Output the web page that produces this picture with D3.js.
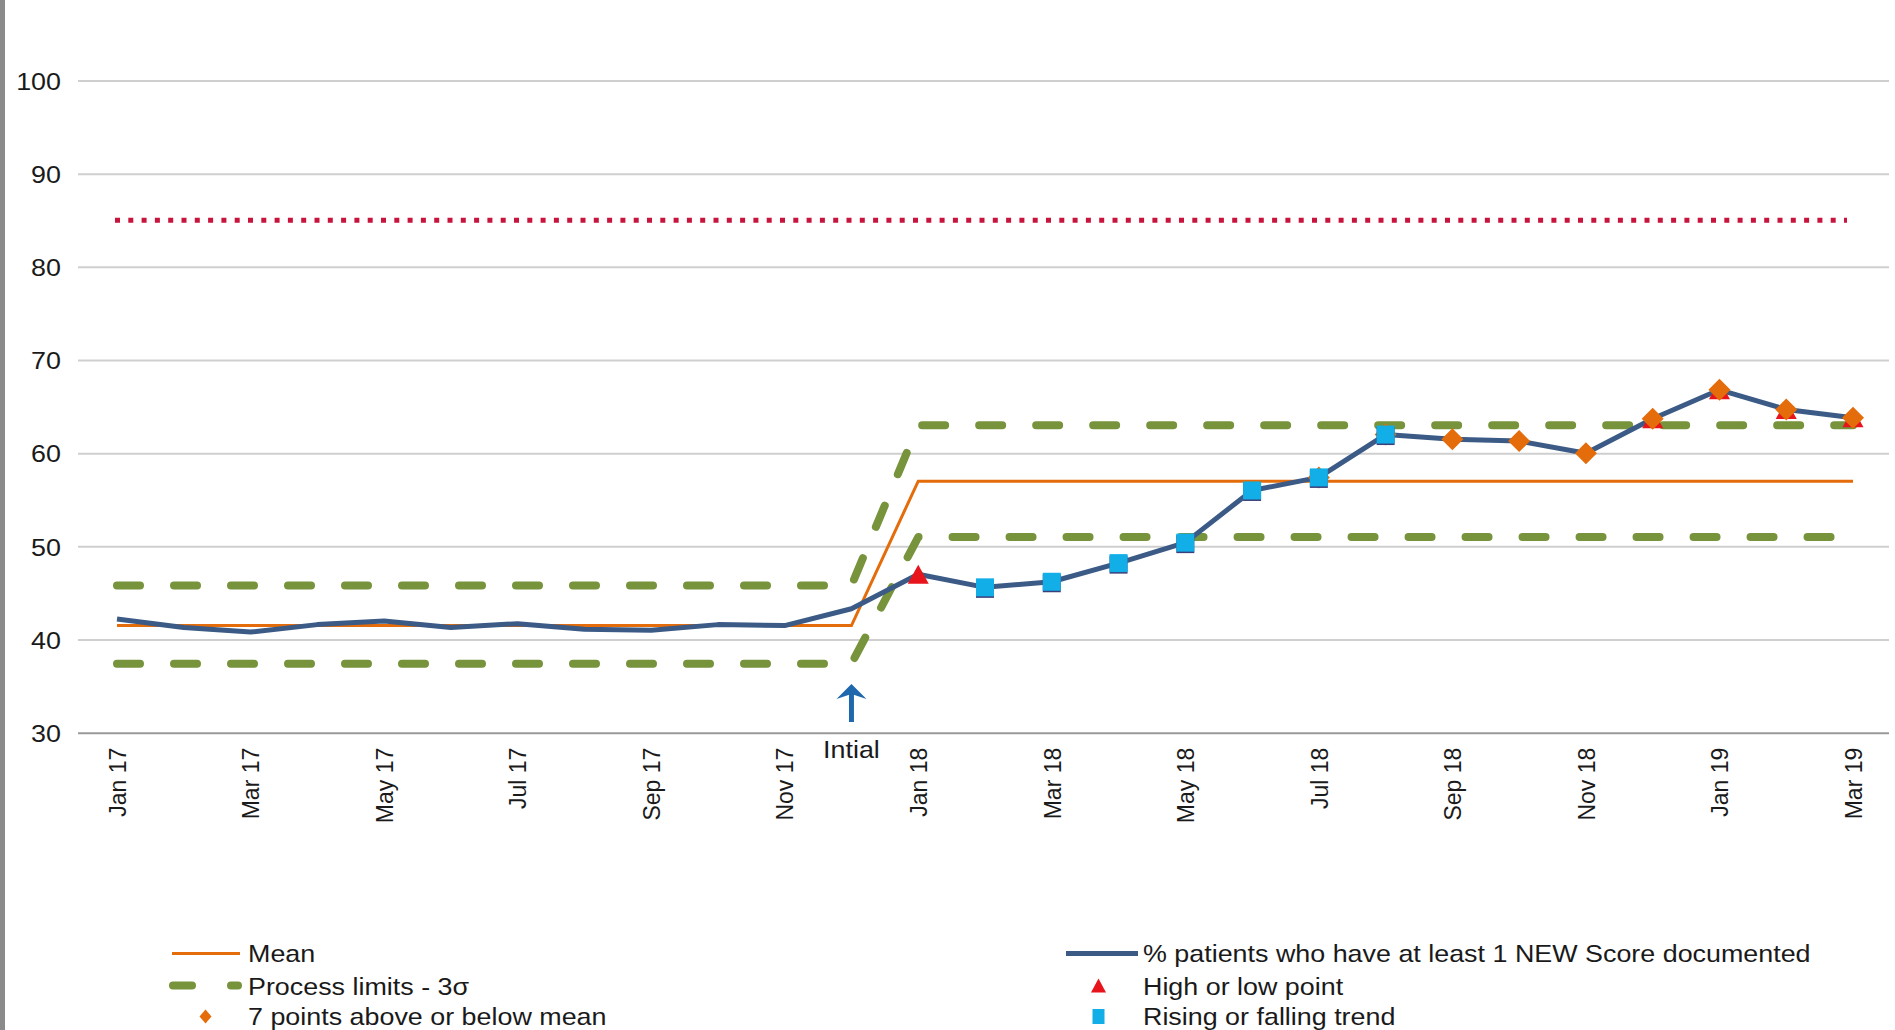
<!DOCTYPE html>
<html>
<head>
<meta charset="utf-8">
<script src="https://cdn.jsdelivr.net/npm/d3@7"></script>
<style>
  html, body { margin: 0; padding: 0; background: #fff; }
  svg { display: block; }
  text { font-family: "Liberation Sans", Arial, sans-serif; fill: #1a1a1a; }
</style>
</head>
<body>
<script>
// ---------- data ----------
const months = ["Jan 17","Feb 17","Mar 17","Apr 17","May 17","Jun 17","Jul 17","Aug 17","Sep 17","Oct 17","Nov 17","Dec 17",
                "Jan 18","Feb 18","Mar 18","Apr 18","May 18","Jun 18","Jul 18","Aug 18","Sep 18","Oct 18","Nov 18","Dec 18",
                "Jan 19","Feb 19","Mar 19"];
const values = [42.2,41.3,40.8,41.6,42.0,41.3,41.7,41.1,41.0,41.6,41.5,43.3,
                47.0,45.6,46.2,48.2,50.4,56.0,57.4,62.0,61.5,61.3,60.0,63.7,
                66.8,64.7,63.8];
const mean = [41.5,41.5,41.5,41.5,41.5,41.5,41.5,41.5,41.5,41.5,41.5,41.5,
              57.0,57.0,57.0,57.0,57.0,57.0,57.0,57.0,57.0,57.0,57.0,57.0,57.0,57.0,57.0];
const upperLimit = [45.8,45.8,45.8,45.8,45.8,45.8,45.8,45.8,45.8,45.8,45.8,45.8,
                    63.0,63.0,63.0,63.0,63.0,63.0,63.0,63.0,63.0,63.0,63.0,63.0,63.0,63.0,63.0];
const lowerLimit = [37.4,37.4,37.4,37.4,37.4,37.4,37.4,37.4,37.4,37.4,37.4,37.4,
                    51.0,51.0,51.0,51.0,51.0,51.0,51.0,51.0,51.0,51.0,51.0,51.0,51.0,51.0,51.0];
const target = 85;
const highLowPoints = ["Jan 18","Dec 18","Jan 19","Feb 19","Mar 19"];
const trendPoints = ["Feb 18","Mar 18","Apr 18","May 18","Jun 18","Jul 18","Aug 18"];
const runPoints = ["Jul 18","Aug 18","Sep 18","Oct 18","Nov 18","Dec 18","Jan 19","Feb 19","Mar 19"];
const xTickLabels = ["Jan 17","Mar 17","May 17","Jul 17","Sep 17","Nov 17","Jan 18","Mar 18","May 18","Jul 18","Sep 18","Nov 18","Jan 19","Mar 19"];
const yTicks = [30,40,50,60,70,80,90,100];
const annotationMonth = "Dec 17";
const annotationText = "Intial";
const legendLeft = ["Mean","Process limits - 3σ","7 points above or below mean"];
const legendRight = ["% patients who have at least 1 NEW Score documented","High or low point","Rising or falling trend"];

// ---------- setup ----------
const W = 1895, H = 1030;
const svg = d3.select("body").append("svg").attr("width", W).attr("height", H);
svg.append("rect").attr("width", W).attr("height", H).attr("fill", "#fff");
svg.append("rect").attr("x", 0).attr("y", 0).attr("width", 5).attr("height", H).attr("fill", "#8a8a8a");

const x = d3.scalePoint().domain(months).range([117, 1853]);
const y = d3.scaleLinear().domain([30, 100]).range([732.7, 80.5]);
const gridLeft = 78, gridRight = 1889;
const HS = 1.12; // horizontal text stretch

// gridlines + y labels
const yAxis = d3.axisLeft(y).tickValues(yTicks).tickSize(-(gridRight - gridLeft)).tickPadding(0);
const gy = svg.append("g").attr("transform", `translate(${gridLeft},0)`).call(yAxis);
gy.select(".domain").remove();
gy.selectAll(".tick line").attr("stroke", d => d === 30 ? "#9a9a9a" : "#cfcfcf").attr("stroke-width", 2);
gy.selectAll(".tick text")
  .attr("x", -17 / HS).attr("dy", "0.36em")
  .attr("transform", `scale(${HS},1)`)
  .style("font-size", "24px").style("font-family", "'Liberation Sans', Arial, sans-serif").attr("fill", "#1a1a1a");

// x labels
const xAxis = d3.axisBottom(x).tickValues(xTickLabels).tickSize(0);
const gx = svg.append("g").attr("transform", `translate(0,${y(30)})`).call(xAxis);
gx.select(".domain").remove();
gx.selectAll(".tick text")
  .attr("transform", "rotate(-90)")
  .attr("text-anchor", "end")
  .attr("x", -15).attr("y", 0).attr("dy", "0.36em")
  .style("font-size", "23px").style("font-family", "'Liberation Sans', Arial, sans-serif").attr("fill", "#1a1a1a");

// target dotted line
svg.append("line")
  .attr("x1", x(months[0]) - 2).attr("x2", x(months[months.length - 1]) - 6)
  .attr("y1", y(target)).attr("y2", y(target))
  .attr("stroke", "#c8143c").attr("stroke-width", 5)
  .attr("stroke-dasharray", "5 8.3");

const line = d3.line().x((d, i) => x(months[i])).y(d => y(d));

// process limits
[upperLimit, lowerLimit].forEach(arr => {
  svg.append("path").datum(arr).attr("d", line)
    .attr("fill", "none").attr("stroke", "#77933c").attr("stroke-width", 8)
    .attr("stroke-linecap", "round").attr("stroke-linejoin", "round")
    .attr("stroke-dasharray", "23 34");
});

// mean
svg.append("path").datum(mean).attr("d", line)
  .attr("fill", "none").attr("stroke", "#e46c0a").attr("stroke-width", 3);

// main series
svg.append("path").datum(values).attr("d", line)
  .attr("fill", "none").attr("stroke", "#3b5b86").attr("stroke-width", 5)
  .attr("stroke-linejoin", "round");

const valOf = m => values[months.indexOf(m)];

// triangles (high/low)
const tri = (cx, cy, w, h) => `M${cx},${cy - h / 2}L${cx + w / 2},${cy + h / 2}L${cx - w / 2},${cy + h / 2}Z`;
svg.append("g").selectAll("path").data(highLowPoints).join("path")
  .attr("d", m => tri(x(m), y(valOf(m)), 21, 19))
  .attr("fill", "#e8141c");

// diamonds (run)
const dia = (cx, cy, w, h) => `M${cx},${cy - h / 2}L${cx + w / 2},${cy}L${cx},${cy + h / 2}L${cx - w / 2},${cy}Z`;
svg.append("g").selectAll("path").data(runPoints).join("path")
  .attr("d", m => dia(x(m), y(valOf(m)), 22, 22))
  .attr("fill", "#e46c0a");

// squares (trend)
const sq = svg.append("g");
sq.selectAll("rect.sh").data(trendPoints).join("rect").attr("class", "sh")
  .attr("x", m => x(m) - 9).attr("y", m => y(valOf(m)) - 7.5)
  .attr("width", 18).attr("height", 18).attr("fill", "#3b3f7a");
sq.selectAll("rect.sq").data(trendPoints).join("rect").attr("class", "sq")
  .attr("x", m => x(m) - 9).attr("y", m => y(valOf(m)) - 9)
  .attr("width", 18).attr("height", 18).attr("fill", "#12aee8");

// annotation arrow + text
const ax = x(annotationMonth);
svg.append("line").attr("x1", ax).attr("x2", ax).attr("y1", 722).attr("y2", 694)
  .attr("stroke", "#1f68ad").attr("stroke-width", 5);
svg.append("path")
  .attr("d", `M${ax},${684}L${ax + 15},${699}L${ax},${694}L${ax - 15},${699}Z`)
  .attr("fill", "#1f68ad");
svg.append("text").attr("transform", `translate(${ax},758) scale(${HS},1)`)
  .attr("text-anchor", "middle").style("font-size", "24px").text(annotationText);

// legend
const lg = svg.append("g");
const rowsY = [962, 994.5, 1025];
const rowsC = [953.5, 985.5, 1016.5];
// left column
lg.append("line").attr("x1", 172).attr("x2", 240).attr("y1", rowsC[0]).attr("y2", rowsC[0])
  .attr("stroke", "#e46c0a").attr("stroke-width", 3);
lg.append("line").attr("x1", 173).attr("x2", 238).attr("y1", rowsC[1]).attr("y2", rowsC[1])
  .attr("stroke", "#77933c").attr("stroke-width", 8).attr("stroke-linecap", "round")
  .attr("stroke-dasharray", "19 39");
lg.append("path").attr("d", dia(205.5, rowsC[2], 12, 14)).attr("fill", "#e46c0a");
legendLeft.forEach((t, i) => {
  lg.append("text").attr("transform", `translate(248,${rowsY[i]}) scale(${HS},1)`)
    .style("font-size", "24px").text(t);
});
// right column
lg.append("line").attr("x1", 1066).attr("x2", 1138).attr("y1", rowsC[0]).attr("y2", rowsC[0])
  .attr("stroke", "#3b5b86").attr("stroke-width", 5);
lg.append("path").attr("d", tri(1098.5, rowsC[1], 15, 14)).attr("fill", "#e8141c");
lg.append("rect").attr("x", 1092.5).attr("y", rowsC[2] - 7.5).attr("width", 12).attr("height", 15).attr("fill", "#12aee8");
legendRight.forEach((t, i) => {
  lg.append("text").attr("transform", `translate(1143,${rowsY[i]}) scale(${HS},1)`)
    .style("font-size", "24px").text(t);
});
</script>
</body>
</html>
